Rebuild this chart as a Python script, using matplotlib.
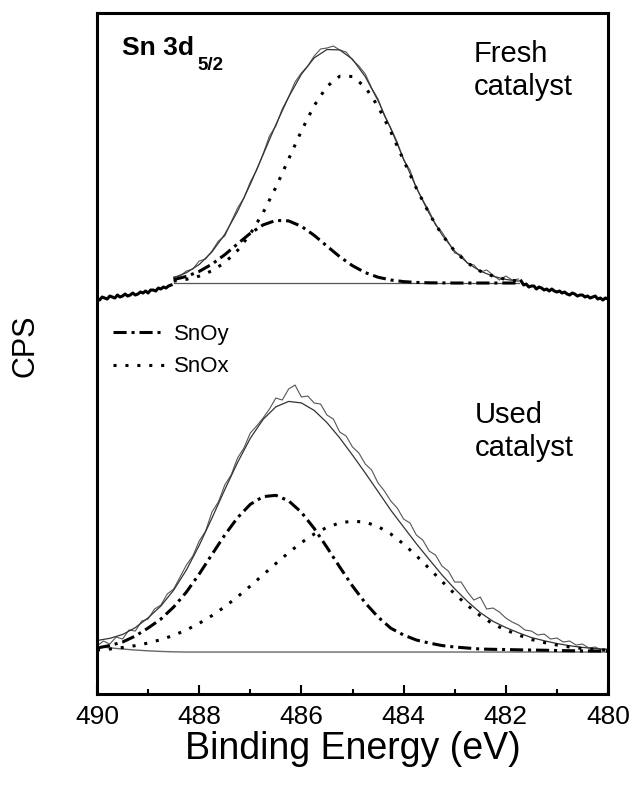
import numpy as np
import matplotlib
matplotlib.use("Agg")
import matplotlib.pyplot as plt
from matplotlib.lines import Line2D

plt.rcParams['font.family'] = ['Liberation Sans', 'DejaVu Sans']

# ---------------- data (arbitrary CPS units) ----------------
# fresh catalyst: fit region 488.5 -> 481.75 eV, step 0.25 eV
snox_f = [1.9, 3.7, 6.9, 12.2, 20.4, 32.5, 49.1, 70.3, 95.7, 123.9, 152.1, 177.4, 196.6, 206.8,
          206.5, 195.9, 176.6, 151.1, 122.7, 94.7, 69.4, 48.3, 31.9, 20.0, 11.9, 6.8, 3.6, 1.9]
snoy_f = [3.4, 6.6, 11.6, 18.9, 28.3, 39.1, 49.7, 58.1, 62.6, 62.1, 56.7, 47.7, 36.9, 26.3,
          17.3, 10.4, 5.8, 3.0, 1.4, 0.6, 0.2, 0.1, 0.0, 0.0, 0.0, 0.0, 0.0, 0.0]
env_f = [5.3, 10.3, 18.5, 31.1, 48.7, 71.6, 98.8, 128.4, 158.3, 186.0, 208.8, 225.1, 233.5, 233.1,
         223.8, 206.3, 182.4, 154.1, 124.1, 95.3, 69.6, 48.4, 31.9, 20.0, 11.9, 6.8, 3.6, 1.9]
# raw counts inside fit region (488.5 -> 481.75, step 0.125)
raw_f = [6, 7, 12, 14, 22, 24, 32, 42, 47, 61, 75, 85, 101, 113, 129, 147, 157, 174, 186, 201,
         210, 217, 227, 234, 235, 237, 233, 231, 223, 217, 209, 195, 184, 167, 155, 141, 123, 113, 95, 83,
         72, 58, 51, 41, 30, 28, 20, 18, 11, 13, 8, 3, 7, 3, 4]
# raw counts outside fit region (step 0.05 eV)
raw_f_left = [-16, -17, -14, -15, -16, -13, -14, -15, -12, -14, -13, -11, -13, -12, -10, -12, -11, -9,
              -10, -8, -10, -7, -7, -8, -5, -6, -4, -5, -3, -2]          # 490.00 -> 488.55
raw_f_right = [2, -2, -1, -4, -3, -3, -6, -4, -5, -7, -6, -8, -6, -8, -9, -8, -10, -9, -11, -12,
               -10, -11, -13, -12, -12, -14, -13, -15, -14, -13, -16, -15, -17, -15, -16]  # 481.70 -> 480.00

# used catalyst: 490 -> 480 eV, step 0.25 eV
snoy_u = [4, 6.5, 10, 16, 24, 33, 45, 60, 78, 97.6, 117.0, 134.3, 147.7, 155.4, 156.7, 151.2, 139.7,
          123.6, 104.7, 85.0, 66.0, 49.1, 35.0, 23.8, 17.0, 12.0, 9.0, 6.5, 5.0, 4.0, 3.0, 2.7, 2.5,
          2.2, 2.0, 1.8, 1.5, 1.3, 1.1, 1.0, 0.9]
snox_u = [2.0, 3.0, 4.5, 6.4, 9.0, 12.4, 16.7, 22.1, 28.7, 36.4, 45.3, 55.2, 66.0, 77.2, 88.5, 99.4,
          109.4, 118.0, 124.7, 129.1, 130.9, 129.9, 125.5, 118.0, 108.0, 96.3, 83.6, 70.7, 58.2, 46.6,
          36.4, 28.0, 22.0, 17.0, 12.5, 9.5, 7.0, 5.0, 3.5, 2.5, 1.8]
bg_u = [5.5, 4.2, 3.0, 2.0, 1.2, 0.6, 0.2] + [0.0] * 34
env_u = [11.5, 13.7, 17.5, 24.4, 34.2, 46.0, 61.9, 82.1, 106.7, 134.0, 162.3, 189.5, 213.7, 232.6,
         245.2, 250.6, 249.1, 241.6, 229.4, 214.1, 196.9, 179.0, 160.5, 141.8, 125.0, 108.3, 92.6,
         77.2, 63.2, 50.6, 39.4, 30.7, 24.5, 19.2, 14.5, 11.3, 8.5, 6.3, 4.6, 3.5, 2.7]
# raw counts, 490 -> 480 eV, step 0.125
raw_u = [6, 11, 8, 15, 13, 22, 21, 31, 33, 43, 47, 58, 63, 75, 87, 96, 111, 121, 140, 150,
         167, 177, 194, 204, 219, 226, 234, 243, 254, 252, 263, 267, 255, 256, 249, 248, 237, 233, 220, 216,
         205, 199, 188, 182, 169, 161, 151, 144, 133, 129, 117, 112, 101, 97, 86, 81, 70, 70, 60, 52,
         55, 43, 44, 40, 34, 30, 27, 22, 21, 17, 18, 13, 14, 10, 11, 7, 8, 4, 5, 2, 3]

# energy axes
be_fit_f = np.linspace(488.5, 481.75, len(env_f))
be_raw_f = np.linspace(488.5, 481.75, len(raw_f))
be_left_f = np.linspace(490.0, 488.55, len(raw_f_left))
be_right_f = np.linspace(481.7, 480.0, len(raw_f_right))
be_u = np.linspace(490.0, 480.0, len(env_u))
be_raw_u = np.linspace(490.0, 480.0, len(raw_u))

# vertical stacking offsets
off_f = 411
off_u = 42

# ---------------- styles ----------------
dashdot = (0, (4.3, 1.6, 1, 1.6))
dotted = (0, (1, 2.9))
comp_lw = 2.2

fig = plt.figure(figsize=(6.34, 7.93), dpi=100)
ax = fig.add_axes([0.153, 0.1248, 0.806, 0.8588])

def add(y, off):
    return np.asarray(y, dtype=float) + off

# fresh
ax.plot(be_left_f, add(raw_f_left, off_f), color='black', lw=2.2)
ax.plot(be_right_f, add(raw_f_right, off_f), color='black', lw=2.2)
ax.plot([be_fit_f[0], be_fit_f[-1]], [off_f, off_f], color='#555555', lw=0.9)
ax.plot(be_raw_f, add(raw_f, off_f), color='#555555', lw=0.8)
ax.plot(be_fit_f, add(env_f, off_f), color='#333333', lw=0.9)
ax.plot(be_fit_f, add(snoy_f, off_f), color='black', lw=comp_lw, linestyle=dashdot)
ax.plot(be_fit_f, add(snox_f, off_f), color='black', lw=comp_lw, linestyle=dotted)

# used
ax.plot(be_u, add(bg_u, off_u), color='#666666', lw=1.0)
ax.plot(be_raw_u, add(raw_u, off_u), color='#555555', lw=0.8)
ax.plot(be_u, add(env_u, off_u), color='#333333', lw=0.9)
ax.plot(be_u, add(snoy_u, off_u), color='black', lw=comp_lw, linestyle=dashdot)
ax.plot(be_u, add(snox_u, off_u), color='black', lw=comp_lw, linestyle=dotted)

ax.set_xlim(490, 480)
ax.set_ylim(0, 681)
ax.set_xticks([490, 488, 486, 484, 482, 480])
ax.set_xticks([489, 487, 485, 483, 481], minor=True)
ax.set_yticks([])
ax.tick_params(axis='x', which='major', direction='in', length=6.5, width=1.5,
               labelsize=19, pad=8, top=False)
ax.tick_params(axis='x', which='minor', direction='in', length=3.6, width=1.5, top=False)
for sp in ax.spines.values():
    sp.set_linewidth(2.2)

ax.set_xlabel('Binding Energy (eV)', fontsize=27, labelpad=1)
ax.set_ylabel('CPS', fontsize=22)
ax.yaxis.set_label_coords(-0.11, 0.512)

# annotations
ax.text(0.049, 0.938, 'Sn 3d', transform=ax.transAxes, fontsize=19, fontweight='bold')
ax.text(0.197, 0.916, '5/2', transform=ax.transAxes, fontsize=13.5, fontweight='bold')
ax.text(0.738, 0.960, 'Fresh\ncatalyst', transform=ax.transAxes, fontsize=21,
        va='top', ha='left', linespacing=1.2)
ax.text(0.740, 0.430, 'Used\ncatalyst', transform=ax.transAxes, fontsize=21,
        va='top', ha='left', linespacing=1.2)

handles = [Line2D([], [], color='black', lw=comp_lw, linestyle=dashdot),
           Line2D([], [], color='black', lw=comp_lw, linestyle=dotted)]
ax.legend(handles, ['SnOy', 'SnOx'], loc='upper left', bbox_to_anchor=(0.031, 0.543),
          frameon=False, fontsize=16, handlelength=2.3, handletextpad=0.45,
          labelspacing=0.5, borderpad=0, borderaxespad=0)

fig.savefig('out.png', dpi=100)
